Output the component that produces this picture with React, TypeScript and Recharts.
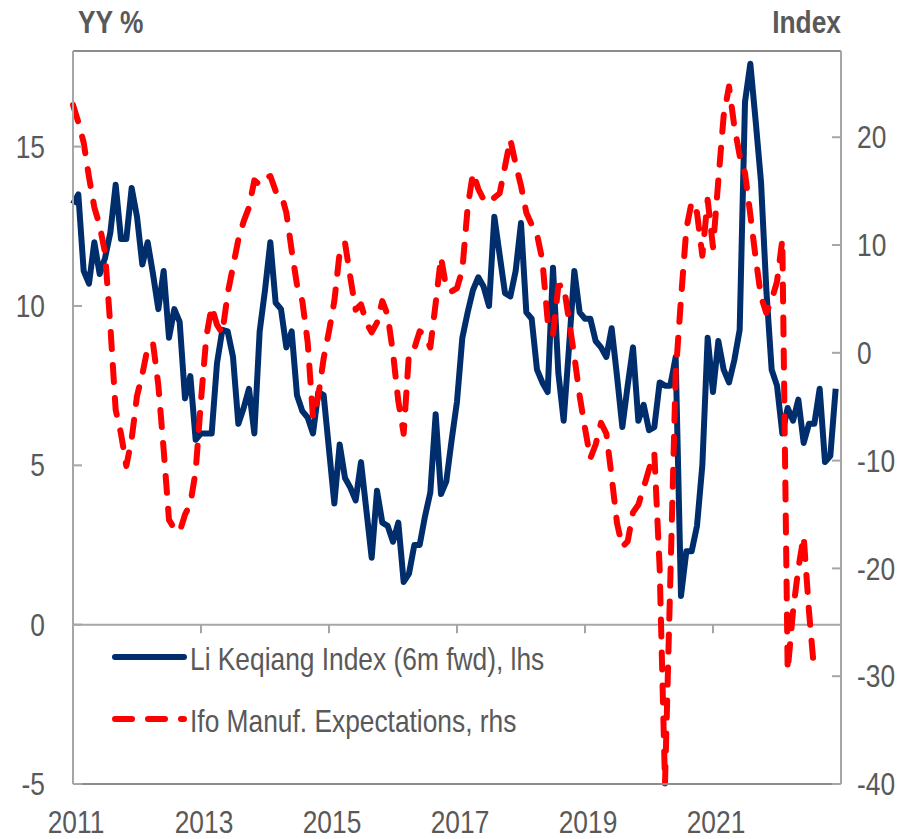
import { LineChart, Line, XAxis, YAxis, ReferenceLine, Legend } from 'recharts'

// ─── Style constants ─────────────────────────────────────────────────────────

const FONT = "'Liberation Sans', Arial, sans-serif"
const NARROW = 0.85 // Arial Narrow look, squeezed from Liberation Sans
const TEXT = '#595959'
const AXIS = '#a6a6a6'
const BORDER = '#8c8c8c'
const NAVY = '#002E6D'
const RED = '#FF0000'

// ─── Data (monthly, Jan 2011 onwards) ─────────────────────────────────────────

const START_YEAR = 2011
const yearTicks = [0, 24, 48, 72, 96, 120]
const yearLabels = ['2011', '2013', '2015', '2017', '2019', '2021']
const zeroLineTicks = [24, 48, 72, 96, 120]
const leftTicks = [-5, 0, 5, 10, 15]
const rightTicks = [-40, -30, -20, -10, 0, 10, 20]

// Li Keqiang Index (6m fwd), YY %, lhs
const liKeqiang = [
  13.2, 13.5, 11.1, 10.7, 12.0, 11.0, 11.5, 12.3, 13.8, 12.1,
  12.1, 13.7, 12.8, 11.3, 12.0, 11.0, 9.9, 11.1, 9.0, 9.9,
  9.5, 7.1, 7.8, 5.8, 6.0, 6.0, 6.0, 8.2, 9.25, 9.2,
  8.4, 6.3, 6.8, 7.4, 6.0, 9.2, 10.5, 12.0, 10.1, 9.9,
  8.7, 9.2, 7.2, 6.7, 6.5, 6.0, 7.3, 7.2, 5.5, 3.8,
  5.65, 4.6, 4.3, 3.9, 5.1, 3.6, 2.1, 4.2, 3.2, 3.1,
  2.6, 3.2, 1.34, 1.6, 2.5, 2.5, 3.4, 4.15, 6.6, 4.1,
  4.5, 5.8, 7.0, 9.0, 9.8, 10.5, 10.9, 10.6, 10.0, 12.8,
  11.6, 10.4, 10.3, 11.1, 12.6, 9.8, 9.6, 8.0, 7.6, 7.3,
  11.2, 7.9, 6.4, 8.7, 11.1, 9.8, 9.6, 9.6, 8.9, 8.7,
  8.4, 9.3, 7.8, 6.2, 7.5, 8.7, 6.4, 6.9, 6.1, 6.2,
  7.6, 7.5, 7.5, 8.4, 0.9, 2.3, 2.3, 3.1, 5.0, 9.0,
  7.3, 8.9, 8.0, 7.6, 8.3, 9.25, 16.4, 17.6, 15.8, 13.9,
  10.5, 8.0, 7.5, 6.0, 6.8, 6.4, 7.06, 5.7, 6.3, 6.3,
  7.4, 5.1, 5.3, 7.4,
]

// Ifo Manufacturing Expectations, index, rhs
const ifoExpectations = [
  23.0, 21.4, 19.5, 16.3, 13.5, 11.8, 9.3, 2.5, -5.3, -7.5,
  -10.5, -8.0, -4.0, -2.0, 0.5, 0.9, -3.0, -9.0, -15.5, -16.3,
  -16.6, -15.0, -14.0, -11.0, -4.4, 1.5, 4.3, 2.6, 1.8, 5.5,
  8.0, 10.5, 12.2, 13.5, 16.0, 15.6, 16.2, 16.4, 15.0, 14.8,
  13.0, 9.5, 6.3, 4.8, 1.0, -6.0, -4.0, -0.5, 2.0, 4.8,
  9.3, 10.2, 7.0, 4.0, 4.5, 2.8, 1.9, 2.8, 4.8, 3.5,
  0.0, -4.5, -7.5, 0.0, 0.4, 2.0, 1.6, 0.5, 4.6, 8.9,
  6.0, 5.7, 6.0, 7.7, 13.5, 16.7, 15.2, 14.2, 13.9, 14.4,
  14.8, 17.3, 19.8, 17.5, 15.5, 13.0, 11.9, 11.0, 8.6, 3.0,
  1.7, 6.2, 6.3, 3.0, -0.3, -4.0, -7.0, -9.8, -8.5, -6.5,
  -7.5, -11.5, -15.8, -18.0, -17.5, -14.8, -14.1, -12.5, -10.8, -9.3,
  -20.0, -40.0, -21.0, -2.0, 5.0, 11.5, 14.0, 13.0, 9.0, 14.2,
  9.8, 16.0, 22.0, 24.7, 21.0, 18.3, 16.7, 12.8, 8.8, 5.2,
  3.7, 4.9, 6.6, 10.5, -29.5, -24.0, -20.0, -17.0, -24.0, -29.7,
]

const data = liKeqiang.map((lk, i) => ({
  m: i,
  month: `${START_YEAR + Math.floor(i / 12)}-${String((i % 12) + 1).padStart(2, '0')}`,
  lk,
  ifo: ifoExpectations[i],
}))

// ─── Narrow text helper ──────────────────────────────────────────────────────

function NText({
  x,
  y,
  anchor = 'start',
  bold = false,
  dy,
  children,
}: {
  x: number
  y: number
  anchor?: 'start' | 'middle' | 'end'
  bold?: boolean
  dy?: string
  children: any
}) {
  return (
    <text
      transform={`translate(${x},${y}) scale(${NARROW},1)`}
      dy={dy}
      textAnchor={anchor}
      fill={TEXT}
      fontSize={31}
      fontWeight={bold ? 'bold' : 'normal'}
      fontFamily={FONT}
    >
      {children}
    </text>
  )
}

// ─── Ticks ───────────────────────────────────────────────────────────────────

function LeftTick({ x, y, payload }: any) {
  return (
    <g>
      <line x1={x} x2={x + 9} y1={y} y2={y} stroke={AXIS} strokeWidth={2} />
      <NText x={x - 28} y={y} dy="0.36em" anchor="end">
        {payload.value}
      </NText>
    </g>
  )
}

function RightTick({ x, y, payload }: any) {
  return (
    <g>
      <line x1={x - 9} x2={x} y1={y} y2={y} stroke={AXIS} strokeWidth={2} />
      <NText x={x + 16} y={y} dy="0.36em">
        {payload.value}
      </NText>
    </g>
  )
}

function YearTick({ x, y, payload }: any) {
  const idx = yearTicks.indexOf(payload.value)
  return (
    <NText x={x + 3} y={y + 49} anchor="middle">
      {yearLabels[idx] ?? ''}
    </NText>
  )
}

// ─── Legend ──────────────────────────────────────────────────────────────────

function LegendBox() {
  return (
    <svg width={460} height={120} style={{ display: 'block', overflow: 'visible' }}>
      <line x1={7} x2={76} y1={27} y2={27} stroke={NAVY} strokeWidth={6} strokeLinecap="round" />
      <NText x={82} y={40}>
        Li Keqiang Index (6m fwd), lhs
      </NText>
      <line
        x1={7}
        x2={76}
        y1={89}
        y2={89}
        stroke={RED}
        strokeWidth={6}
        strokeLinecap="round"
        strokeDasharray="17 16"
      />
      <NText x={82} y={102}>
        Ifo Manuf. Expectations, rhs
      </NText>
    </svg>
  )
}

// ─── Chart ───────────────────────────────────────────────────────────────────

export default function App() {
  return (
    <div style={{ width: 918, height: 839, background: '#fff' }}>
      <style>{'body{margin:0}'}</style>
      <LineChart width={918} height={839} data={data} margin={{ top: 51, right: 17, bottom: 5, left: 13 }}>
        <XAxis
          dataKey="m"
          type="number"
          domain={[0, 144]}
          ticks={yearTicks}
          interval={0}
          height={50}
          tickSize={0}
          tickMargin={0}
          tickLine={false}
          axisLine={{ stroke: BORDER, strokeWidth: 2 }}
          tick={YearTick}
        />
        <YAxis
          yAxisId="left"
          domain={[-5, 18]}
          ticks={leftTicks}
          interval={0}
          width={60}
          tickSize={0}
          tickMargin={0}
          tickLine={false}
          axisLine={{ stroke: AXIS, strokeWidth: 2 }}
          tick={LeftTick}
          label={(props: any) => {
            const vb = props.viewBox ?? { x: 13, y: 51, width: 60 }
            return (
              <NText x={vb.x + vb.width + 5} y={vb.y - 18} bold>
                YY %
              </NText>
            )
          }}
        />
        <YAxis
          yAxisId="right"
          orientation="right"
          domain={[-40, 28]}
          ticks={rightTicks}
          interval={0}
          width={60}
          tickSize={0}
          tickMargin={0}
          tickLine={false}
          axisLine={{ stroke: AXIS, strokeWidth: 2 }}
          tick={RightTick}
          label={(props: any) => {
            const vb = props.viewBox ?? { x: 841, y: 51 }
            return (
              <NText x={vb.x} y={vb.y - 18} anchor="end" bold>
                Index
              </NText>
            )
          }}
        />

        {/* top border of the box */}
        <ReferenceLine yAxisId="left" y={18} stroke={BORDER} strokeWidth={2} />
        {/* zero line with year ticks */}
        <ReferenceLine yAxisId="left" y={0} stroke={AXIS} strokeWidth={2} />
        {zeroLineTicks.map((m) => (
          <ReferenceLine
            key={m}
            yAxisId="left"
            segment={[
              { x: m, y: 0 },
              { x: m, y: -0.27 },
            ]}
            stroke={AXIS}
            strokeWidth={2}
          />
        ))}

        <Legend
          layout="horizontal"
          verticalAlign="middle"
          align="center"
          content={() => <LegendBox />}
          wrapperStyle={{ left: 108, top: 630, width: 460, height: 120 }}
        />

        <Line
          yAxisId="left"
          type="linear"
          dataKey="lk"
          name="Li Keqiang Index (6m fwd), lhs"
          stroke={NAVY}
          strokeWidth={6}
          strokeLinejoin="round"
          dot={false}
          activeDot={false}
          isAnimationActive={false}
        />
        <Line
          yAxisId="right"
          type="linear"
          dataKey="ifo"
          name="Ifo Manuf. Expectations, rhs"
          stroke={RED}
          strokeWidth={6}
          strokeLinecap="round"
          strokeLinejoin="round"
          strokeDasharray="17 16"
          dot={false}
          activeDot={false}
          isAnimationActive={false}
        />
      </LineChart>
    </div>
  )
}
